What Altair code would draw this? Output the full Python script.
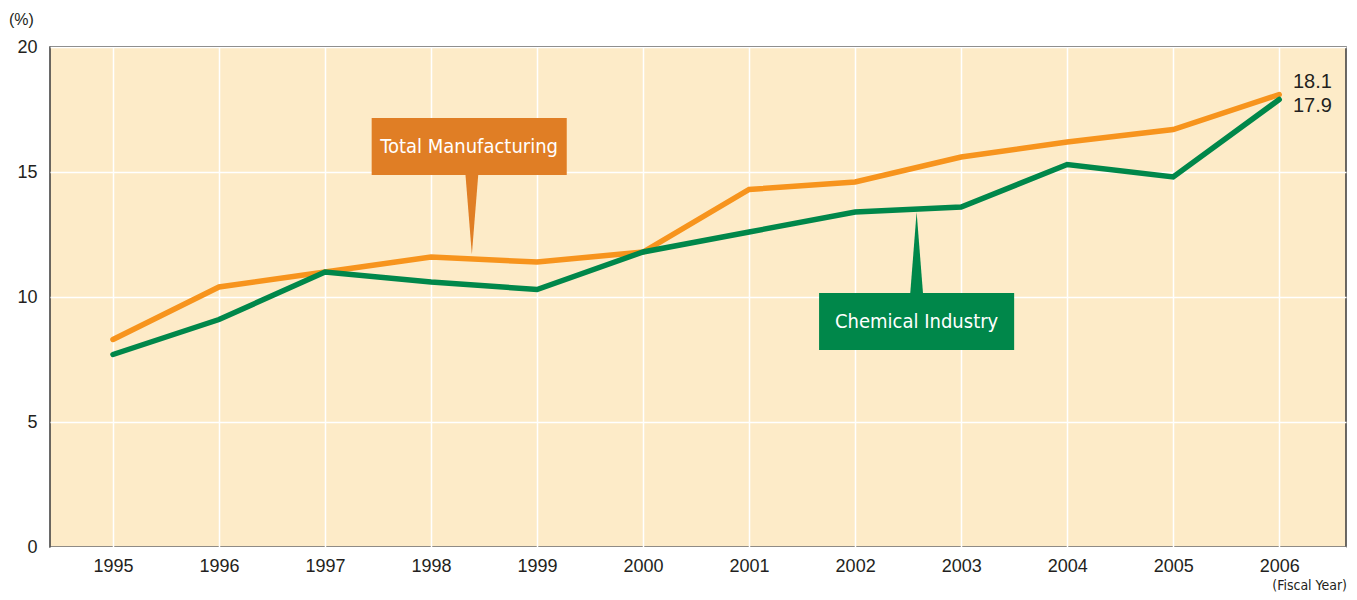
import altair as alt
import pandas as pd

years = list(range(1995, 2007))
total_mfg = [8.3, 10.4, 11.0, 11.6, 11.4, 11.8, 14.3, 14.6, 15.6, 16.2, 16.7, 18.1]
chemical = [7.7, 9.1, 11.0, 10.6, 10.3, 11.8, 12.6, 13.4, 13.6, 15.3, 14.8, 17.9]
series_names = ["Total Manufacturing", "Chemical Industry"]
series_colors = ["#F7941D", "#00874A"]
box_colors = ["#E07E25", "#00874A"]

# callout boxes (data units)
box_x1 = [1997.44, 2001.66]
box_x2 = [1999.28, 2003.50]
box_y1 = [14.88, 7.88]
box_y2 = [17.16, 10.16]
box_tx = [1998.36, 2002.58]
box_ty = [16.02, 9.02]
# pointer triangles: base y, tip y, base half width, center x
ptr_cx = [1998.385, 2002.58]
ptr_base_y = [14.88, 10.16]
ptr_tip_y = [11.7, 13.4]
ptr_half = [0.06, 0.06]

end_labels = ["18.1", "17.9"]
end_label_y = [18.6, 17.65]

NARROW = "Liberation Sans Narrow, DejaVu Sans Condensed, Roboto Condensed, Roboto, sans-serif"
SANS = "Liberation Sans, Arial, sans-serif"

df = pd.DataFrame({
    "year": years * 2,
    "value": total_mfg + chemical,
    "series": [series_names[0]] * 12 + [series_names[1]] * 12,
})

xscale = alt.Scale(domain=[1994.406, 2006.63], nice=False, zero=False)
yscale = alt.Scale(domain=[0, 20], nice=False)

lines = alt.Chart(df).mark_line(strokeWidth=5.5, strokeCap="round", strokeJoin="miter").encode(
    x=alt.X("year:Q", scale=xscale,
            axis=alt.Axis(values=years, format="d", title=None, ticks=False, domain=False,
                          grid=True, gridColor="white", gridWidth=1.5,
                          labelFontSize=18, labelColor="#231f20", labelPadding=10,
                          labelFont=SANS)),
    y=alt.Y("value:Q", scale=yscale,
            axis=alt.Axis(values=[0, 5, 10, 15, 20], title=None, ticks=False, domain=False,
                          grid=True, gridColor="white", gridWidth=1.5,
                          labelFontSize=18, labelColor="#231f20", labelPadding=13,
                          labelFont=SANS)),
    color=alt.Color("series:N", scale=alt.Scale(domain=series_names, range=series_colors), legend=None),
    order=alt.Order("series:N", sort="descending"),
)

box_df = pd.DataFrame({"x1": box_x1, "x2": box_x2, "y1": box_y1, "y2": box_y2,
                       "tx": box_tx, "ty": box_ty, "name": series_names, "col": box_colors})
boxes = alt.Chart(box_df).mark_rect().encode(
    x=alt.X("x1:Q", scale=xscale), x2="x2:Q",
    y=alt.Y("y1:Q", scale=yscale), y2="y2:Q",
    fill=alt.Fill("col:N", scale=None, legend=None),
)
box_text = alt.Chart(box_df).mark_text(color="white", fontSize=20, font=NARROW).encode(
    x=alt.X("tx:Q", scale=xscale), y=alt.Y("ty:Q", scale=yscale), text="name:N")

ptr_rows = []
for i, n in enumerate(series_names):
    ptr_rows.append({"name": n, "col": box_colors[i], "py": ptr_base_y[i], "xa": ptr_cx[i] - ptr_half[i], "xb": ptr_cx[i] + ptr_half[i]})
    ptr_rows.append({"name": n, "col": box_colors[i], "py": ptr_tip_y[i], "xa": ptr_cx[i], "xb": ptr_cx[i]})
ptr_df = pd.DataFrame(ptr_rows)
pointers = alt.Chart(ptr_df).mark_area(orient="horizontal").encode(
    y=alt.Y("py:Q", scale=yscale),
    x=alt.X("xa:Q", scale=xscale), x2="xb:Q",
    fill=alt.Fill("col:N", scale=None, legend=None),
    detail="name:N",
)

end_df = pd.DataFrame({"x": [2006.13, 2006.13], "y": end_label_y, "t": end_labels})
end_text = alt.Chart(end_df).mark_text(align="left", fontSize=20, color="#231f20", font=SANS).encode(
    x=alt.X("x:Q", scale=xscale), y=alt.Y("y:Q", scale=yscale), text="t:N")

unit_df = pd.DataFrame({"t": ["(%)"]})
unit_text = alt.Chart(unit_df).mark_text(align="left", fontSize=16, color="#231f20", font=SANS).encode(
    x=alt.value(-41), y=alt.value(-27), text="t:N")
fy_df = pd.DataFrame({"t": ["(Fiscal Year)"]})
fy_text = alt.Chart(fy_df).mark_text(align="right", fontSize=14, color="#231f20", font=NARROW).encode(
    x=alt.value(1297), y=alt.value(539), text="t:N")

chart = alt.layer(lines, pointers, boxes, box_text, end_text, unit_text, fy_text).properties(
    width=1296, height=500,
    autosize=alt.AutoSizeParams(type="none"),
    padding={"left": 42, "top": 39, "right": 3, "bottom": 45},
    background="white",
).configure_view(fill="#FDEBC8", stroke="#3a3a3a", strokeWidth=1.5)

chart.save("out.html", embed_options={"renderer": "svg", "actions": False})
